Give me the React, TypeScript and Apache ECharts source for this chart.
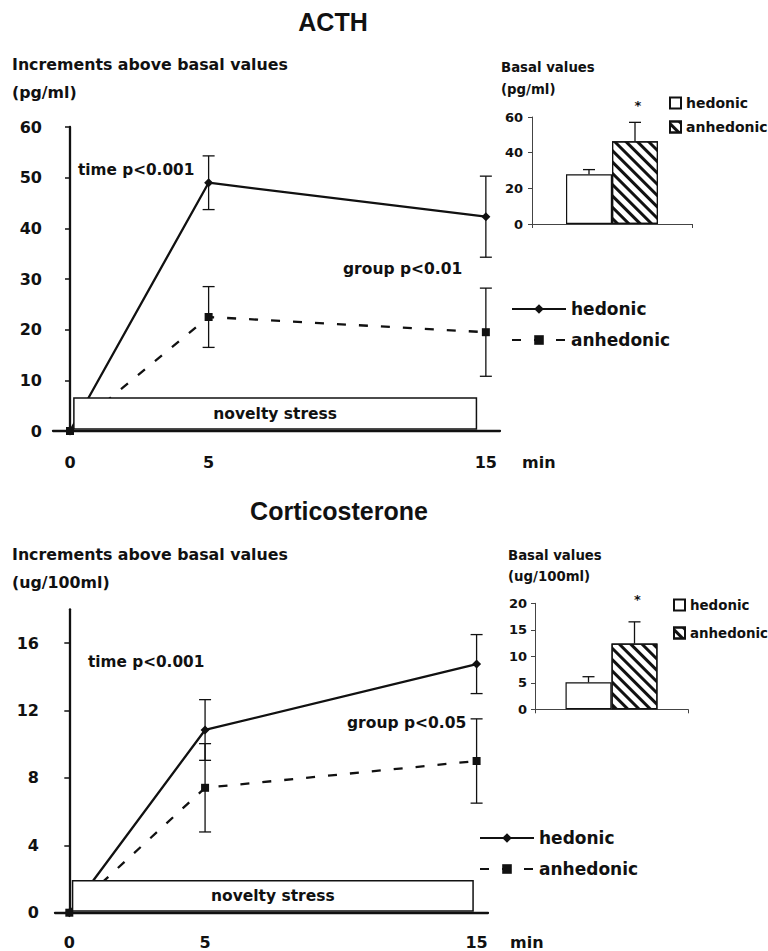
import { useEffect, useRef } from 'react';
import * as echarts from 'echarts';

// ---------- data ----------
const timePoints = [0, 5, 15];
const acthHedonic = [0, 49.0, 42.3];
const acthHedonicErr = [0, 5.3, 8.0];
const acthAnhedonic = [0, 22.5, 19.5];
const acthAnhedonicErr = [0, 6.0, 8.7];

const cortHedonic = [0, 10.84, 14.75];
const cortHedonicErr = [0, 1.8, 1.75];
const cortAnhedonic = [0, 7.41, 9.0];
const cortAnhedonicErr = [0, 2.62, 2.5];

const groups = ['hedonic', 'anhedonic'];
const acthBasal = [27.9, 46.4];
const acthBasalErr = [2.6, 10.6];
const cortBasal = [5.1, 12.4];
const cortBasalErr = [1.05, 4.1];
const acthStar = 66.6;
const cortStar = 20.8;

const xTickLabels = [0, 5, 15];
const acthYTicks = [0, 10, 20, 30, 40, 50, 60];
const cortYTicks = [0, 4, 8, 12, 16];
const acthBasalTicks = [0, 20, 40, 60];
const cortBasalTicks = [0, 5, 10, 15, 20];

// stress window: [xStart, yBottom, xEnd, yTop]
const stressActh = [0.14, 0.4, 14.66, 6.5];
const stressCort = [0.12, 0.1, 14.87, 1.9];

// ---------- styles ----------
const FONT = '"DejaVu Sans", sans-serif';
const TITLE_FONT = '"Liberation Sans", Arial, sans-serif';
const INK = '#111';
const BAR_W = 46;

const pairs = (ys: number[]) => timePoints.map((t, i) => [t, ys[i]]);
const triples = (ys: number[], es: number[]) => timePoints.map((t, i) => [t, ys[i], es[i]]);

function errorBarRender(params: any, api: any) {
  const x = api.value(0), y = api.value(1), e = api.value(2);
  if (!e) return { type: 'group', children: [] };
  const top = api.coord([x, y + e]);
  const bot = api.coord([x, y - e]);
  const c = 6;
  const st = { stroke: INK, lineWidth: 1.3 };
  return {
    type: 'group',
    children: [
      { type: 'line', shape: { x1: top[0], y1: top[1], x2: bot[0], y2: bot[1] }, style: st },
      { type: 'line', shape: { x1: top[0] - c, y1: top[1], x2: top[0] + c, y2: top[1] }, style: st },
      { type: 'line', shape: { x1: bot[0] - c, y1: bot[1], x2: bot[0] + c, y2: bot[1] }, style: st },
    ],
  };
}

function barErrRender(params: any, api: any) {
  const side = params.dataIndex === 0 ? -1 : 1;
  const v = api.value(1), e = api.value(2);
  const base = api.coord([0, v]);
  const top = api.coord([0, v + e]);
  const x = base[0] + (side * BAR_W) / 2;
  const c = 6;
  const st = { stroke: INK, lineWidth: 1.3 };
  return {
    type: 'group',
    children: [
      { type: 'line', shape: { x1: x, y1: base[1], x2: x, y2: top[1] }, style: st },
      { type: 'line', shape: { x1: x - c, y1: top[1], x2: x + c, y2: top[1] }, style: st },
    ],
  };
}

function starRender(params: any, api: any) {
  const p = api.coord([0, api.value(1)]);
  return {
    type: 'text',
    x: p[0] + BAR_W / 2 + 3,
    y: p[1],
    style: { text: '*', font: `bold 13px ${FONT}`, fill: INK, align: 'center', verticalAlign: 'middle' },
  };
}

function boxRender(params: any, api: any) {
  const p0 = api.coord([api.value(0), api.value(1)]);
  const p1 = api.coord([api.value(2), api.value(3)]);
  return {
    type: 'group',
    children: [
      {
        type: 'rect',
        shape: { x: p0[0], y: p1[1], width: p1[0] - p0[0], height: p0[1] - p1[1] },
        style: { fill: '#fff', stroke: INK, lineWidth: 1.5 },
      },
      {
        type: 'text',
        x: (p0[0] + p1[0]) / 2,
        y: (p0[1] + p1[1]) / 2,
        style: { text: 'novelty stress', font: `bold 15.5px ${FONT}`, fill: INK, align: 'center', verticalAlign: 'middle' },
      },
    ],
  };
}

const txt = (text: string, x: number, y: number, size: number, family = FONT, align = 'left') => ({
  type: 'text',
  x,
  y,
  style: {
    text,
    font: `bold ${size}px ${family}`,
    fill: INK,
    align,
    textAlign: align,
    verticalAlign: 'middle',
    textVerticalAlign: 'middle',
  },
});

const mainXAxis = (grid: number, min: number, max: number, margin: number) => ({
  gridIndex: grid,
  type: 'value',
  min,
  max,
  axisLine: { show: true, onZero: false, lineStyle: { color: INK, width: 2.3 } },
  axisTick: { show: false },
  splitLine: { show: false },
  axisLabel: { customValues: xTickLabels, margin, fontSize: 16, fontWeight: 'bold', fontFamily: FONT, color: INK },
});

const mainYAxis = (grid: number, max: number, interval: number, ticks: number[], margin: number) => ({
  gridIndex: grid,
  type: 'value',
  min: 0,
  max,
  interval,
  axisLine: { show: true, lineStyle: { color: INK, width: 2.3 } },
  axisTick: { show: true, length: 5, customValues: ticks, lineStyle: { color: INK, width: 1.5 } },
  splitLine: { show: false },
  axisLabel: { customValues: ticks, margin, fontSize: 16, fontWeight: 'bold', fontFamily: FONT, color: INK },
});

const insetXAxis = (grid: number) => ({
  gridIndex: grid,
  type: 'category',
  data: [''],
  axisLine: { show: true, lineStyle: { color: '#444', width: 1 } },
  axisTick: { show: true, length: 4, lineStyle: { color: '#444' } },
  axisLabel: { show: false },
});

const insetYAxis = (grid: number, max: number, interval: number, ticks: number[], margin: number) => ({
  gridIndex: grid,
  type: 'value',
  min: 0,
  max,
  interval,
  axisLine: { show: true, lineStyle: { color: '#444', width: 1 } },
  axisTick: { show: true, length: 4, customValues: ticks, lineStyle: { color: '#444' } },
  splitLine: { show: false },
  axisLabel: { customValues: ticks, margin, fontSize: 13, fontWeight: 'bold', fontFamily: FONT, color: INK },
});

const hatch = {
  symbol: 'rect',
  symbolSize: 1,
  dashArrayX: [1, 0],
  dashArrayY: [2.5, 4.5],
  rotation: Math.PI / 4,
  color: INK,
  backgroundColor: '#fff',
};

const lineSeries = (name: string, data: number[], grid: number, dashed: boolean) => ({
  type: 'line',
  name,
  xAxisIndex: grid,
  yAxisIndex: grid,
  data: pairs(data),
  symbol: dashed ? 'rect' : 'diamond',
  symbolSize: dashed ? 8 : 9,
  z: 3,
  itemStyle: { color: INK },
  lineStyle: { color: INK, width: 2.3, type: dashed ? [9, 13] : 'solid' },
});

const errSeries = (data: number[], err: number[], grid: number) => ({
  type: 'custom',
  xAxisIndex: grid,
  yAxisIndex: grid,
  data: triples(data, err),
  renderItem: errorBarRender,
  z: 4,
});

const barSeries = (name: string, value: number, grid: number, hatched: boolean) => ({
  type: 'bar',
  name,
  xAxisIndex: grid,
  yAxisIndex: grid,
  data: [value],
  barWidth: BAR_W,
  barGap: '0%',
  z: 2,
  itemStyle: hatched
    ? { color: '#fff', borderColor: INK, borderWidth: 1.2, decal: hatch }
    : { color: '#fff', borderColor: INK, borderWidth: 1.2 },
});

const barErrSeries = (vals: number[], errs: number[], grid: number) => ({
  type: 'custom',
  xAxisIndex: grid,
  yAxisIndex: grid,
  data: groups.map((g, i) => [0, vals[i], errs[i]]),
  renderItem: barErrRender,
  z: 4,
});

const starSeries = (v: number, grid: number) => ({
  type: 'custom',
  xAxisIndex: grid,
  yAxisIndex: grid,
  data: [[0, v]],
  renderItem: starRender,
  z: 4,
});

const boxSeries = (win: number[], grid: number) => ({
  type: 'custom',
  xAxisIndex: grid,
  yAxisIndex: grid,
  data: [win],
  renderItem: boxRender,
  z: 10,
});

const mainLegend = (left: number, top: number) => ({
  data: groups,
  orient: 'vertical',
  left,
  top,
  padding: 0,
  itemWidth: 54,
  itemHeight: 12,
  itemGap: 13,
  selectedMode: false,
  textStyle: { fontFamily: FONT, fontWeight: 'bold', fontSize: 17, color: INK, lineHeight: 18 },
});

const insetLegend = (left: number, top: number, gap: number, size: number) => ({
  data: groups.map((g) => g + ' basal'),
  orient: 'vertical',
  left,
  top,
  padding: 0,
  icon: 'rect',
  itemWidth: 11,
  itemHeight: 11,
  itemGap: gap,
  selectedMode: false,
  formatter: (n: string) => n.replace(' basal', ''),
  textStyle: { fontFamily: FONT, fontWeight: 'bold', fontSize: size, color: INK, lineHeight: 14 },
});

export default function App() {
  const ref = useRef<HTMLDivElement>(null);
  useEffect(() => {
    if (!ref.current) return;
    const chart = echarts.init(ref.current, undefined, { renderer: 'svg' });
    const option: any = {
      animation: false,
      backgroundColor: '#fff',
      grid: [
        { left: 53, top: 127, width: 447, height: 304 },
        { left: 532, top: 117, width: 160, height: 107 },
        { left: 55, top: 609.3, width: 433, height: 303.4 },
        { left: 535, top: 603.3, width: 153, height: 106 },
      ],
      xAxis: [
        mainXAxis(0, -0.613, 15.51, 23),
        insetXAxis(1),
        mainXAxis(2, -0.527, 15.42, 22),
        insetXAxis(3),
      ],
      yAxis: [
        mainYAxis(0, 60, 10, acthYTicks, 11),
        insetYAxis(1, 60, 20, acthBasalTicks, 9),
        mainYAxis(2, 18, 4, cortYTicks, 16),
        insetYAxis(3, 20, 5, cortBasalTicks, 8),
      ],
      legend: [
        mainLegend(511, 300),
        mainLegend(479, 829),
        insetLegend(669, 96, 10, 14),
        insetLegend(673, 598, 14, 13.4),
      ],
      series: [
        lineSeries('hedonic', acthHedonic, 0, false),
        lineSeries('anhedonic', acthAnhedonic, 0, true),
        errSeries(acthHedonic, acthHedonicErr, 0),
        errSeries(acthAnhedonic, acthAnhedonicErr, 0),
        boxSeries(stressActh, 0),
        barSeries('hedonic basal', acthBasal[0], 1, false),
        barSeries('anhedonic basal', acthBasal[1], 1, true),
        barErrSeries(acthBasal, acthBasalErr, 1),
        starSeries(acthStar, 1),
        lineSeries('hedonic', cortHedonic, 2, false),
        lineSeries('anhedonic', cortAnhedonic, 2, true),
        errSeries(cortHedonic, cortHedonicErr, 2),
        errSeries(cortAnhedonic, cortAnhedonicErr, 2),
        boxSeries(stressCort, 2),
        barSeries('hedonic basal', cortBasal[0], 3, false),
        barSeries('anhedonic basal', cortBasal[1], 3, true),
        barErrSeries(cortBasal, cortBasalErr, 3),
        starSeries(cortStar, 3),
      ],
      graphic: [
        txt('ACTH', 333, 22, 25, TITLE_FONT, 'center'),
        txt('Corticosterone', 339, 511, 25, TITLE_FONT, 'center'),
        txt('Increments above basal values', 12, 64, 15.8),
        txt('(pg/ml)', 12, 92, 15.8),
        txt('Increments above basal values', 12, 554, 15.8),
        txt('(ug/100ml)', 12, 582, 15.8),
        txt('time p<0.001', 78, 170, 15.3),
        txt('group p<0.01', 343, 269, 15.5),
        txt('time p<0.001', 88, 662, 15.3),
        txt('group p<0.05', 347, 723, 15.5),
        txt('min', 522, 462, 16),
        txt('min', 510, 942, 16),
        txt('Basal values', 501, 67, 13.3),
        txt('(pg/ml)', 501, 89, 13.3),
        txt('Basal values', 508, 555, 13.3),
        txt('(ug/100ml)', 508, 576, 13.3),
      ],
    };
    chart.setOption(option);
    return () => chart.dispose();
  }, []);
  return (
    <div
      ref={ref}
      style={{ position: 'fixed', left: 0, top: 0, width: 768, height: 951, background: '#fff' }}
    />
  );
}
